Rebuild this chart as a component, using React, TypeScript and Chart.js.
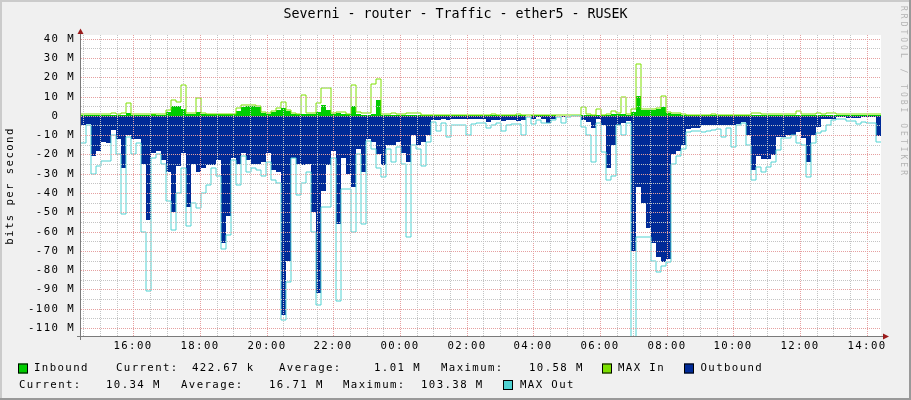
import React, { useEffect, useRef } from "react";
import { Chart, registerables } from "chart.js";

Chart.register(...registerables);

// ---------- text ----------
const TITLE = "Severni - router - Traffic - ether5 - RUSEK";
const Y_AXIS_LABEL = "bits per second";
const WATERMARK = "RRDTOOL / TOBI OETIKER";
const STAT_NAMES = ["Current:", "Average:", "Maximum:"];
const INBOUND_STATS = ["422.67 k", "1.01 M", "10.58 M"];
const OUTBOUND_STATS = ["10.34 M", "16.71 M", "103.38 M"];
const SERIES_NAMES = ["Inbound", "MAX In", "Outbound", "MAX Out"];

// ---------- time axis (minutes since midnight of first day) ----------
const START_MINUTE = 866; // 14:26
const STEP_MINUTES = 9;
const X_MIN = 866;
const X_MAX = 2306;
const Y_MIN = -114.1;
const Y_MAX = 41.9;

// ---------- series values (Mbit/s) ----------
const inbound = [
  0.4, 0.4, 0.4, 0.4, 0.4, 0.4, 0.5, 0.5, 0.5, 1.5, 0.6, 0.6, 0.5, 0.5, 0.8, 0.6, 0.6, 2, 5, 5, 3.5, 1, 1, 2, 1, 0.8, 0.8,
  0.8, 0.8, 0.8, 0.8, 2.5, 4.5, 5, 5, 4.5, 1.5, 1, 2, 3, 4, 2.5, 1, 0.8, 1, 1, 1, 2, 5.5, 3, 1, 1.5, 1, 0.8,
  5, 0.8, 0.5, 0.5, 1, 8, 0.5, 0.5, 0.5, 0.4, 0.4, 0.4, 0.4, 0.4, 0.3, 0.3, 0.3, 0.3, 0.3, 0.3, 0.3, 0.3, 0.3, 0.3, 0.3, 0.3, 0.3,
  0.2, 0.2, 0.2, 0.2, 0.2, 0.2, 0.2, 0.2, 0.1, 0.2, 0.2, 0.2, 0.2, 0.2, 0.1, 0.1, 0.1, 0.1, 0.1, 0.5, 0.5, 0.3, 0.5, 0.3, 0.5, 0.8,
  1, 1, 0.5, 2, 10.5, 3, 3, 3.2, 3.5, 4.5, 1.5, 1, 1, 0.5, 0.3, 0.3, 0.3, 0.3, 0.3, 0.3, 0.3, 0.3, 0.3, 0.3, 0.3, 0.3, 0.3,
  0.3, 0.3, 0.3, 0.3, 0.3, 0.3, 0.3, 0.3, 0.3, 0.3, 0.3, 0.3, 0.3, 0.3, 0.3, 0.3, 0.3, 0.3, 0.3, 0.3, 0.3, 0.3, 0.3, 0.3, 0.3, 0.42,
];
const maxIn = [
  0.8, 0.8, 0.8, 0.8, 0.8, 0.8, 1.7, 0.8, 1.5, 6.4, 0.8, 0.8, 0.8, 0.8, 0.8, 0.8, 1.0, 3, 8, 7, 16, 1.5, 1.5, 9.5, 1.5, 1.2, 1.0,
  1.0, 1.0, 1.2, 1.2, 4, 5.5, 5.5, 5.5, 5, 2, 1.5, 2.5, 4, 7, 3, 1.5, 1.2, 11, 1.5, 1.5, 6.5, 14.6, 14.6, 1.5, 2, 2, 1.2,
  16, 2, 1.5, 1.7, 16.7, 19, 1.0, 1.0, 1.7, 0.8, 0.8, 1.5, 1.7, 1.5, 0.6, 0.5, 0.5, 0.5, 0.5, 0.5, 0.5, 0.5, 0.5, 0.5, 0.5, 0.5, 0.5,
  0.4, 1.0, 0.4, 0.4, 0.4, 0.4, 1.0, 0.4, 0.3, 0.4, 0.4, 0.4, 0.4, 0.4, 0.3, 0.3, 0.3, 0.3, 0.3, 4.5, 1.0, 0.6, 3.4, 0.5, 0.8, 2.5,
  1.5, 9.8, 1.2, 3.8, 27, 3.5, 3.5, 3.8, 4, 10.5, 2, 1.3, 1.3, 0.8, 0.5, 0.5, 0.5, 0.5, 0.5, 1.0, 0.5, 0.5, 0.5, 0.5, 0.5, 0.5, 0.5,
  1.7, 1.7, 0.8, 0.8, 0.8, 0.8, 0.8, 0.8, 0.8, 2.4, 0.8, 0.8, 0.8, 1.7, 0.8, 1.7, 1.7, 0.8, 0.8, 0.8, 0.8, 0.8, 1.2, 1.2, 0.8, 0.8,
];
const outbound = [
  5, 4, 21, 18, 13.5, 14, 7.5, 12, 27, 10, 12, 12, 25, 54, 19, 18, 23, 29, 50, 26, 19, 47, 25, 29, 27, 25.5, 25.5,
  23, 66, 52, 22, 25, 19, 23, 25, 25, 24, 19, 28, 29, 103, 75, 22, 25, 25.5, 25, 50, 92, 39, 25.5, 18, 56, 22, 30,
  37, 17, 29, 12, 13.5, 20, 25.5, 15, 15, 13.5, 19, 24, 10, 15, 13.5, 10, 2.2, 2.2, 1.7, 2.2, 1.4, 1.7, 1.7, 1.4, 1.4, 1.4, 1.7,
  3, 2.2, 2.2, 2.8, 2.2, 2.2, 2.8, 2.2, 0.3, 1.4, 0.5, 1.7, 3.5, 1.4, 0.3, 0.5, 0.3, 0.3, 0.3, 2.2, 3, 6.5, 1.7, 4.8, 27, 15,
  4.5, 3.5, 2.8, 70, 37, 45, 58, 66, 73, 76, 74, 20, 18, 15, 7, 6.5, 6.5, 5, 5, 4.5, 4.5, 5, 4.5, 4.5, 4, 3, 10,
  28, 21, 22.4, 22.4, 20.3, 10.9, 11, 10, 10, 8.3, 11.7, 23.8, 10, 5.7, 1.4, 1.4, 1.4, 0.5, 0.5, 1, 1, 1, 0.5, 0.5, 0.5, 10.34,
];
const maxOut = [
  14, 4.5, 30, 26, 23.5, 23.5, 10, 20, 51, 11, 20, 14, 60, 91, 22, 20, 25, 44, 59, 40, 27, 57, 45, 48, 40, 36, 27,
  31, 69, 62, 23, 36, 21, 29, 27, 28, 31, 24, 33, 35, 106, 86, 22, 41, 35, 29, 60, 98, 47, 47, 22, 96, 38, 38,
  60, 20, 56, 13, 17, 27, 31.5, 17, 24, 16, 25, 63, 15, 17, 26, 13.5, 3, 8, 3.5, 11, 4.5, 5, 4.8, 10, 4, 3.5, 3.5,
  6.5, 4.8, 3.5, 8, 4.8, 4, 4, 10, 0.5, 4, 2.2, 3.5, 3.5, 2.2, 0.5, 3.5, 0.5, 0.3, 0.3, 5.7, 10, 24, 3.5, 18.6, 33, 31,
  4.8, 10, 3.5, 125, 63, 63, 63, 75, 81, 78, 76, 25, 21, 17, 8.3, 8, 8, 8.5, 8, 7.5, 7, 11, 6.5, 16, 5, 3.5, 15,
  33, 26.4, 29, 26.4, 23.8, 17.8, 11.5, 11.4, 10, 14.3, 15.2, 31.5, 14.3, 9.1, 7.9, 4.8, 2.2, 1.4, 1.4, 2.8, 2.8, 4, 3.1, 3.5, 3.5, 13.4,
];

// ---------- styles ----------
const C_IN = "#00CC00";
const C_MAXIN = "#7CE000";
const C_OUT = "#002A97";
const C_MAXOUT = "#50D2D2";
const GRID_MINOR = "#C4C4C4";
const GRID_MAJOR = "#E6A0A0";
const MONO = '"DejaVu Sans Mono", monospace';
const SMALL_SIZE = 10.7;
const SPACING = "1.4px";

function toSeries(vals: number[], sign: number) {
  const pts = vals.map((v, i) => ({ x: START_MINUTE + i * STEP_MINUTES, y: sign * v }));
  pts.push({ x: START_MINUTE + vals.length * STEP_MINUTES, y: sign * vals[vals.length - 1] });
  return pts;
}

function fmtTime(v: number) {
  const h = Math.round(v / 60) % 24;
  return (h < 10 ? "0" : "") + h + ":00";
}

const rrdPlugin = {
  id: "rrdDecor",
  beforeDraw(chart: any) {
    const { ctx, chartArea: a, width, height } = chart;
    ctx.save();
    ctx.fillStyle = "#F0F0F0";
    ctx.fillRect(0, 0, width, height);
    ctx.fillStyle = "#CBCBCB";
    ctx.fillRect(0, 0, width, 2);
    ctx.fillRect(0, 0, 2, height);
    ctx.fillStyle = "#999999";
    ctx.fillRect(0, height - 2, width, 2);
    ctx.fillRect(width - 2, 0, 2, height);
    ctx.fillStyle = "#FFFFFF";
    ctx.fillRect(a.left, a.top, a.right - a.left, a.bottom - a.top);
    ctx.restore();
    ctx.letterSpacing = SPACING;
  },
  afterDraw(chart: any) {
    const { ctx, chartArea: a } = chart;
    ctx.save();
    // axes
    ctx.strokeStyle = "#7A7A7A";
    ctx.lineWidth = 1;
    ctx.beginPath();
    ctx.moveTo(77, a.bottom + 0.5);
    ctx.lineTo(884, a.bottom + 0.5);
    ctx.moveTo(a.left - 0.5, a.bottom + 4);
    ctx.lineTo(a.left - 0.5, 33);
    ctx.stroke();
    ctx.fillStyle = "#9B1C1C";
    ctx.beginPath();
    ctx.moveTo(a.left - 0.5, 28.5);
    ctx.lineTo(a.left - 3.5, 34);
    ctx.lineTo(a.left + 2.5, 34);
    ctx.closePath();
    ctx.fill();
    ctx.beginPath();
    ctx.moveTo(889, a.bottom + 0.5);
    ctx.lineTo(883, a.bottom - 2.5);
    ctx.lineTo(883, a.bottom + 3.5);
    ctx.closePath();
    ctx.fill();

    // title
    ctx.fillStyle = "#000";
    ctx.letterSpacing = "0px";
    ctx.font = `13.3px ${MONO}`;
    ctx.textAlign = "center";
    ctx.textBaseline = "middle";
    ctx.fillText(TITLE, 455.5, 14.5);

    // y label
    ctx.letterSpacing = SPACING;
    ctx.font = `${SMALL_SIZE}px ${MONO}`;
    ctx.save();
    ctx.translate(10.5, 186);
    ctx.rotate(-Math.PI / 2);
    ctx.fillText(Y_AXIS_LABEL, 0, 0);
    ctx.restore();

    // watermark
    ctx.save();
    ctx.translate(903, 6);
    ctx.rotate(Math.PI / 2);
    ctx.font = `8px ${MONO}`;
    ctx.letterSpacing = "3px";
    ctx.fillStyle = "#B4B4B4";
    ctx.textAlign = "left";
    ctx.fillText(WATERMARK, 0, 0);
    ctx.restore();

    // legend
    ctx.font = `${SMALL_SIZE}px ${MONO}`;
    ctx.letterSpacing = SPACING;
    ctx.textAlign = "left";
    ctx.textBaseline = "middle";
    const box = (x: number, cy: number, color: string) => {
      ctx.fillStyle = color;
      ctx.fillRect(x, cy - 5, 10, 10);
      ctx.strokeStyle = "#000";
      ctx.lineWidth = 1;
      ctx.strokeRect(x + 0.5, cy - 4.5, 9, 9);
    };
    const text = (s: string, x: number, cy: number) => {
      ctx.fillStyle = "#000";
      ctx.fillText(s, x, cy);
    };
    const r1 = 368.5;
    const r2 = 385;
    box(18, r1, C_IN);
    text(SERIES_NAMES[0], 34, r1);
    text(STAT_NAMES[0], 116, r1);
    text(INBOUND_STATS[0], 192, r1);
    text(STAT_NAMES[1], 279, r1);
    text(INBOUND_STATS[1], 374, r1);
    text(STAT_NAMES[2], 441, r1);
    text(INBOUND_STATS[2], 529, r1);
    box(602, r1, C_MAXIN);
    text(SERIES_NAMES[1], 618, r1);
    box(684, r1, C_OUT);
    text(SERIES_NAMES[2], 700.5, r1);
    text(STAT_NAMES[0], 19, r2);
    text(OUTBOUND_STATS[0], 106, r2);
    text(STAT_NAMES[1], 181, r2);
    text(OUTBOUND_STATS[1], 269, r2);
    text(STAT_NAMES[2], 343, r2);
    text(OUTBOUND_STATS[2], 421, r2);
    box(503, r2, C_MAXOUT);
    text(SERIES_NAMES[3], 520, r2);
    ctx.restore();
  },
};

export default function App() {
  const ref = useRef<HTMLCanvasElement | null>(null);
  useEffect(() => {
    document.body.style.margin = "0";
    const canvas = ref.current;
    if (!canvas) return;
    const chart = new Chart(canvas, {
      type: "line",
      data: {
        datasets: [
          {
            label: SERIES_NAMES[3],
            data: toSeries(maxOut, -1),
            borderColor: C_MAXOUT,
            borderWidth: 1,
            fill: false,
            stepped: "before",
            pointRadius: 0,
            order: 0,
          },
          {
            label: SERIES_NAMES[2],
            data: toSeries(outbound, -1),
            backgroundColor: C_OUT,
            borderColor: C_OUT,
            borderWidth: 0,
            fill: "origin",
            stepped: "before",
            pointRadius: 0,
            order: 1,
          },
          {
            label: SERIES_NAMES[1],
            data: toSeries(maxIn, 1),
            borderColor: C_MAXIN,
            borderWidth: 1,
            fill: false,
            stepped: "before",
            pointRadius: 0,
            order: 2,
          },
          {
            label: SERIES_NAMES[0],
            data: toSeries(inbound, 1),
            backgroundColor: C_IN,
            borderColor: C_IN,
            borderWidth: 0,
            fill: "origin",
            stepped: "before",
            pointRadius: 0,
            order: 3,
          },
        ] as any,
      },
      options: {
        responsive: false,
        animation: false,
        devicePixelRatio: 1,
        events: [],
        layout: { padding: { top: 35, right: 30, left: 0, bottom: 0 } },
        plugins: {
          legend: { display: false },
          title: { display: false },
          tooltip: { enabled: false },
        },
        scales: {
          x: {
            type: "linear",
            min: X_MIN,
            max: X_MAX,
            alignToPixels: true,
            afterBuildTicks: (s: any) => {
              const t = [];
              for (let v = Math.ceil(s.min / 30) * 30; v <= s.max; v += 30) t.push({ value: v });
              s.ticks = t;
            },
            afterFit: (s: any) => {
              s.height = 64;
              s.paddingLeft = 0;
              s.paddingRight = 0;
            },
            ticks: {
              autoSkip: false,
              maxRotation: 0,
              minRotation: 0,
              padding: 3.5,
              color: "#000",
              font: { family: MONO, size: SMALL_SIZE },
              callback: (v: any) => (Number(v) % 120 === 0 ? fmtTime(Number(v)) : ""),
            },
            grid: {
              z: 1,
              drawTicks: false,
              lineWidth: 1,
              color: (c: any) => (c.tick && c.tick.value % 120 === 0 ? GRID_MAJOR : GRID_MINOR),
            },
            border: { display: false, dash: [1, 1] },
          },
          y: {
            type: "linear",
            min: Y_MIN,
            max: Y_MAX,
            alignToPixels: true,
            afterBuildTicks: (s: any) => {
              const t = [];
              for (let v = Math.ceil(s.min / 5) * 5; v <= s.max; v += 5) t.push({ value: v });
              s.ticks = t;
            },
            afterFit: (s: any) => {
              s.width = 81;
              s.paddingTop = 0;
              s.paddingBottom = 0;
            },
            ticks: {
              autoSkip: false,
              padding: 6,
              color: "#000",
              font: { family: MONO, size: SMALL_SIZE },
              callback: (v: any) => {
                const n = Number(v);
                if (n % 10 !== 0) return "";
                return n === 0 ? "0  " : `${n} M`;
              },
            },
            grid: {
              z: 1,
              drawTicks: false,
              lineWidth: 1,
              color: (c: any) => (c.tick && c.tick.value % 10 === 0 ? GRID_MAJOR : GRID_MINOR),
            },
            border: { display: false, dash: [1, 1] },
          },
        },
      } as any,
      plugins: [rrdPlugin],
    });
    return () => chart.destroy();
  }, []);
  return <canvas ref={ref} width={911} height={400} style={{ display: "block", width: 911, height: 400 }} />;
}
